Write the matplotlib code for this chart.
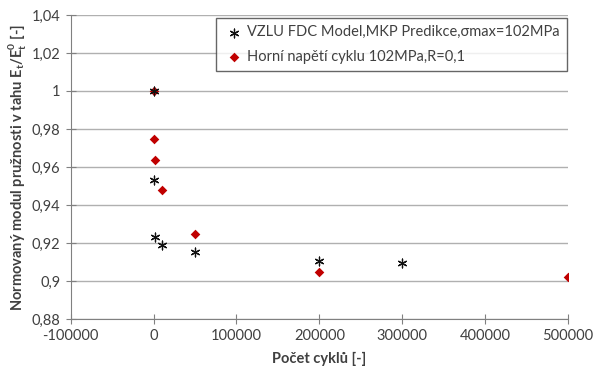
import matplotlib
matplotlib.use("Agg")
import matplotlib.pyplot as plt

plt.rcParams['font.family'] = ['Lato', 'DejaVu Sans']

model_x = [0, 0, 2000, 10000, 50000, 200000, 300000]
model_y = [1.0, 0.953, 0.9233, 0.919, 0.9151, 0.9105, 0.9095]
exp_x = [0, 0, 1500, 10000, 50000, 200000, 500000]
exp_y = [1.0, 0.9745, 0.9637, 0.948, 0.9245, 0.9045, 0.902]

xticks = [-100000, 0, 100000, 200000, 300000, 400000, 500000]
yticks = [0.88, 0.90, 0.92, 0.94, 0.96, 0.98, 1.00, 1.02, 1.04]
ylabels = ['0,88', '0,9', '0,92', '0,94', '0,96', '0,98', '1', '1,02', '1,04']

fig = plt.figure(figsize=(5.93, 3.71), dpi=100)
ax = fig.add_axes([70.7/593, 1-319/371, (568-70.7)/593, (319-15)/371])

ax.scatter(exp_x, exp_y, marker='D', s=24, color='#c00000', zorder=3,
           label='Horní napětí cyklu 102MPa,R=0,1', linewidths=0)
ax.scatter(model_x, model_y, marker=(6, 2, 0), s=40, color='#111111', linewidths=0.9, zorder=4,
           label='VZLU FDC Model,MKP Predikce,σmax=102MPa')

ax.set_xlim(-100000, 500000)
ax.set_ylim(0.88, 1.04)
ax.set_xticks(xticks)
ax.set_xticklabels([str(t) for t in xticks])
ax.set_yticks(yticks)
ax.set_yticklabels(ylabels)
ax.yaxis.grid(True, color='#b0b0b0', linewidth=1.0)
ax.set_axisbelow(True)
for s in ['top', 'right']:
    ax.spines[s].set_visible(False)
for s in ['left', 'bottom']:
    ax.spines[s].set_color('#808080')
ax.tick_params(axis='both', direction='inout', length=7, color='#808080', labelsize=10.5, colors='#404040')
ax.tick_params(axis='x', pad=4)
ax.tick_params(axis='y', pad=4)

ax.set_xlabel('Počet cyklů [-]', fontsize=10.5, fontweight='bold', color='#404040', labelpad=6)
ax.set_ylabel(r'Normovaný modul pružnosti v tahu E$_\mathregular{t}$/E$_\mathregular{t}^\mathregular{0}$ [-]',
              fontsize=10.5, fontweight='bold', color='#404040', labelpad=2)

handles, labels = ax.get_legend_handles_labels()
leg = ax.legend(handles[::-1], labels[::-1], loc='upper right', bbox_to_anchor=(0.997, 0.99),
                fontsize=10.5, frameon=True, fancybox=False, edgecolor='#404040',
                handletextpad=0.1, borderpad=0.5, labelspacing=0.7, handlelength=1.5,
                borderaxespad=0)
leg.get_frame().set_linewidth(1.0)
for t in leg.get_texts():
    t.set_color('#404040')

fig.savefig('out.png', dpi=100)
